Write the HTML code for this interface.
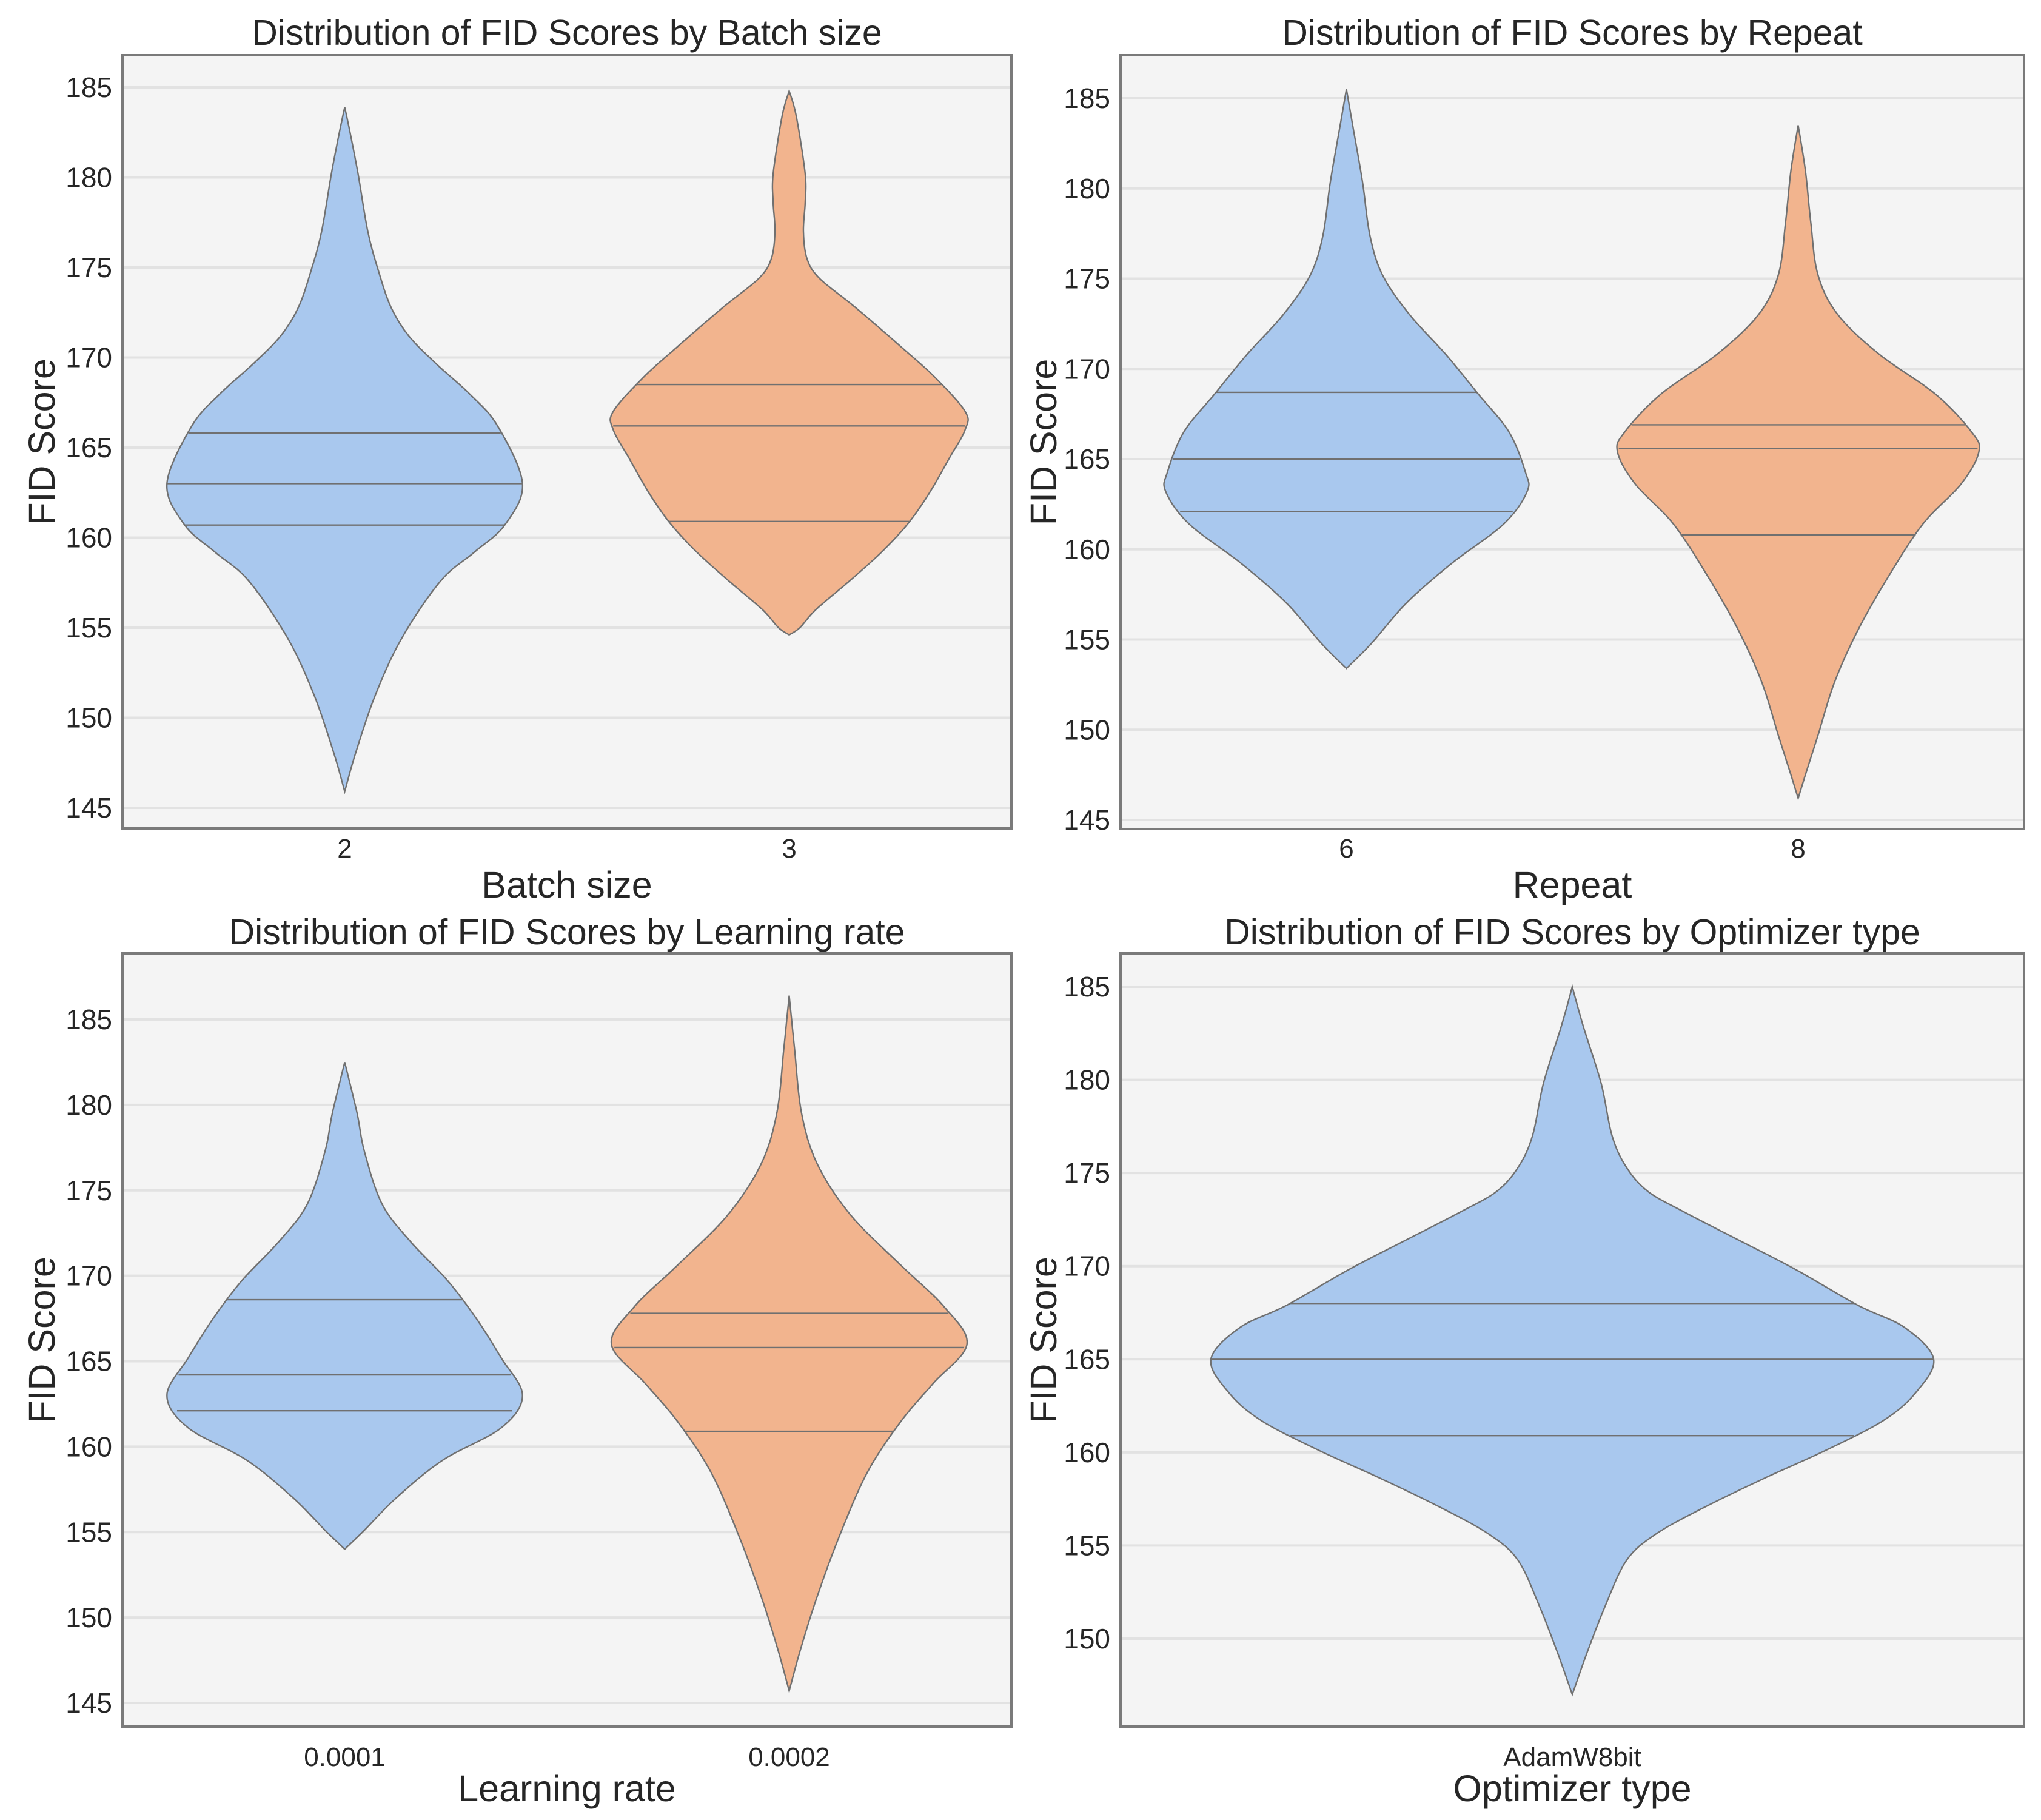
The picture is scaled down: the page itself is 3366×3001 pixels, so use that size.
<!DOCTYPE html>
<html><head><meta charset="utf-8"><style>
html,body{margin:0;padding:0;background:#fff;}
svg{display:block;font-family:"Liberation Sans",Arial,sans-serif;}
</style></head><body>
<svg id="fig" width="3366" height="3001" viewBox="0 0 3366 3001" xmlns="http://www.w3.org/2000/svg"></svg>
<script>
// ---- data ----
const batchCategories = ["2", "3"];
const batchBlue = [[183.9,0],[182.5,0.03],[180.2,0.075],[177,0.13],[174.8,0.19],[172.8,0.26],[171.2,0.36],[169.6,0.52],[168,0.7],[166.2,0.86],[163,1.0],[160.7,0.9],[159.2,0.73],[157.6,0.54],[154.4,0.32],[151.2,0.17],[148,0.06],[145.9,0]];
const batchOrange = [[184.8,0],[183.4,0.04],[180.2,0.09],[178.6,0.09],[177,0.08],[175.5,0.1],[174.4,0.17],[172.8,0.37],[170.5,0.64],[168.9,0.82],[167,0.99],[166,0.99],[164.4,0.9],[162.5,0.79],[160.8,0.67],[159.2,0.52],[157.6,0.34],[156,0.15],[155,0.06],[154.6,0]];
const batchQuartiles = [[165.8,163.0,160.7],[168.5,166.2,160.9]];

const repeatCategories = ["6", "8"];
const repeatBlue = [[185.5,0],[183.2,0.04],[180.3,0.09],[177.4,0.13],[175.2,0.2],[173,0.35],[170.8,0.55],[168.6,0.73],[166.5,0.9],[164.3,0.99],[163.2,1.0],[161.4,0.87],[159.2,0.58],[157,0.33],[154.8,0.14],[153.4,0]];
const repeatOrange = [[183.5,0],[181,0.04],[178.1,0.07],[175.2,0.11],[173,0.22],[170.8,0.45],[168.6,0.76],[166.5,0.96],[165.4,1.0],[163.6,0.9],[161.4,0.69],[158.5,0.5],[155.5,0.33],[152.6,0.2],[149.7,0.11],[147.5,0.04],[146.2,0]];
const repeatQuartiles = [[168.7,165.0,162.1],[166.9,165.6,160.8]];

const lrCategories = ["0.0001", "0.0002"];
const lrBlue = [[182.5,0],[179.5,0.07],[177.3,0.11],[174.2,0.21],[172,0.37],[169.7,0.58],[167.5,0.74],[165.2,0.88],[163,1.0],[161.1,0.88],[159.2,0.55],[157,0.29],[155.1,0.11],[154,0]];
const lrOrange = [[186.4,0],[183.3,0.03],[179.5,0.07],[176.5,0.16],[173.5,0.35],[170.5,0.64],[168.2,0.87],[166,1.0],[163.7,0.81],[161.5,0.63],[158.5,0.44],[154.7,0.28],[151,0.15],[148,0.06],[145.7,0]];
const lrQuartiles = [[168.6,164.2,162.1],[167.8,165.8,160.9]];

const optCategories = ["AdamW8bit"];
const optBlue = [[185,0],[182.9,0.03],[179.8,0.08],[177,0.11],[175.3,0.15],[174,0.21],[172.9,0.31],[171.4,0.46],[169.8,0.62],[167.9,0.79],[166.7,0.92],[165,1.0],[163.2,0.95],[161.7,0.86],[160.1,0.7],[158.6,0.53],[157,0.36],[155.6,0.23],[154.2,0.15],[151.7,0.09],[149.2,0.04],[147,0]];
const optQuartiles = [[168,165.0,160.9]];

const ticksA = [145,150,155,160,165,170,175,180,185];
const ticksB = [150,155,160,165,170,175,180,185];

const NS = "http://www.w3.org/2000/svg";
const svg = document.getElementById('fig');
function mk(tag, attrs, parent){ const e=document.createElementNS(NS,tag); for(const k in attrs) e.setAttribute(k,attrs[k]); (parent||svg).appendChild(e); return e; }

const COLORS = ["#a9c8ee", "#f2b48e"];

function catmull(pts){
  let d = "M"+pts[0][0].toFixed(1)+","+pts[0][1].toFixed(1);
  for(let i=0;i<pts.length-1;i++){
    const p0=pts[Math.max(i-1,0)], p1=pts[i], p2=pts[i+1], p3=pts[Math.min(i+2,pts.length-1)];
    const c1=[p1[0]+(p2[0]-p0[0])/6, p1[1]+(p2[1]-p0[1])/6];
    const c2=[p2[0]-(p3[0]-p1[0])/6, p2[1]-(p3[1]-p1[1])/6];
    d+=" C"+c1[0].toFixed(1)+","+c1[1].toFixed(1)+" "+c2[0].toFixed(1)+","+c2[1].toFixed(1)+" "+p2[0].toFixed(1)+","+p2[1].toFixed(1);
  }
  return d;
}
function widthAt(shape, v){
  for(let i=0;i<shape.length-1;i++){
    const a=shape[i], b=shape[i+1];
    if(v<=a[0] && v>=b[0]){ const t=(a[0]-v)/(a[0]-b[0]); return a[1]+(b[1]-a[1])*t; }
  }
  return 0;
}

function panel(cfg){
  const g = mk('g',{});
  
  
  const {L,R,T,B} = cfg;
  const y = v => cfg.y0 + (cfg.v0 - v) * (cfg.y1 - cfg.y0) / (cfg.v0 - cfg.v1);
  const n = cfg.cats.length, band = (R-L)/n;
  const x = i => L + band*(i+0.5);
  const bg = mk('rect',{x:L,y:T,width:R-L,height:B-T,fill:'#f4f4f4'},g);
   
  cfg.ticks.forEach(t=>{
    const gl = mk('line',{x1:L,x2:R,y1:y(t),y2:y(t),stroke:'#e2e2e2','stroke-width':4},g);
     
    const tl = mk('text',{x:L-17,y:y(t)+16,'font-size':46,'text-anchor':'end',fill:'#262626'},g);
    tl.textContent = t;
     
  });
  const halfMax = band*0.4;
  cfg.shapes.forEach((shape,i)=>{
    const cx = x(i);
    const right = shape.map(p=>[cx + p[1]*halfMax, y(p[0])]);
    const left = shape.slice().reverse().map(p=>[cx - p[1]*halfMax, y(p[0])]);
    const d = catmull(right) + " L" + catmull(left).slice(1) + " Z";
    const vp = mk('path',{d:d,fill:COLORS[i%2],stroke:'#707070','stroke-width':2.4},g);
     
    cfg.quart[i].forEach((q,k)=>{
      const w = widthAt(shape,q)*halfMax;
      const ql = mk('line',{x1:cx-w,x2:cx+w,y1:y(q),y2:y(q),stroke:'#707070','stroke-width':2.4},g);
       
    });
    const xl = mk('text',{x:cx,y:cfg.tickY,'font-size':44,'text-anchor':'middle',fill:'#262626'},g);
    xl.textContent = cfg.cats[i];
     
  });
  const fr = mk('rect',{x:L,y:T,width:R-L,height:B-T,fill:'none',stroke:'#7a7a7a','stroke-width':4},g);
   
  const title = mk('text',{x:(L+R)/2,y:cfg.titleY,'font-size':59,'text-anchor':'middle',fill:'#262626'},g);
  title.textContent = cfg.title;
   
  const xt = mk('text',{x:(L+R)/2,y:cfg.xlabY,'font-size':61,'text-anchor':'middle',fill:'#262626'},g);
  xt.textContent = cfg.xlabel;
   
  const yc = (T+B)/2;
  const yt = mk('text',{x:cfg.ylabX,y:yc,'font-size':61,'text-anchor':'middle',fill:'#262626',transform:'rotate(-90 '+cfg.ylabX+' '+yc+')'},g);
  yt.textContent = 'FID Score';
   
}

panel({name:'panel-batch-size',L:202,R:1668,T:91,B:1366,v0:185,y0:144,v1:145,y1:1332,ticks:ticksA,
  cats:batchCategories,shapes:[batchBlue,batchOrange],quart:batchQuartiles,tickY:1414,titleY:74,xlabY:1480,ylabX:90,
  title:'Distribution of FID Scores by Batch size',xlabel:'Batch size'});
panel({name:'panel-repeat',L:1848,R:3338,T:91,B:1367,v0:185,y0:162,v1:145,y1:1352,ticks:ticksA,
  cats:repeatCategories,shapes:[repeatBlue,repeatOrange],quart:repeatQuartiles,tickY:1414,titleY:74,xlabY:1480,ylabX:1742,
  title:'Distribution of FID Scores by Repeat',xlabel:'Repeat'});
panel({name:'panel-learning-rate',L:202,R:1668,T:1572,B:2847,v0:185,y0:1681,v1:145,y1:2808,ticks:ticksA,
  cats:lrCategories,shapes:[lrBlue,lrOrange],quart:lrQuartiles,tickY:2912,titleY:1557,xlabY:2970,ylabX:90,
  title:'Distribution of FID Scores by Learning rate',xlabel:'Learning rate'});
panel({name:'panel-optimizer-type',L:1848,R:3338,T:1572,B:2847,v0:185,y0:1627,v1:150,y1:2702,ticks:ticksB,
  cats:optCategories,shapes:[optBlue],quart:optQuartiles,tickY:2912,titleY:1557,xlabY:2970,ylabX:1742,
  title:'Distribution of FID Scores by Optimizer type',xlabel:'Optimizer type'});
</script>
</body></html>
